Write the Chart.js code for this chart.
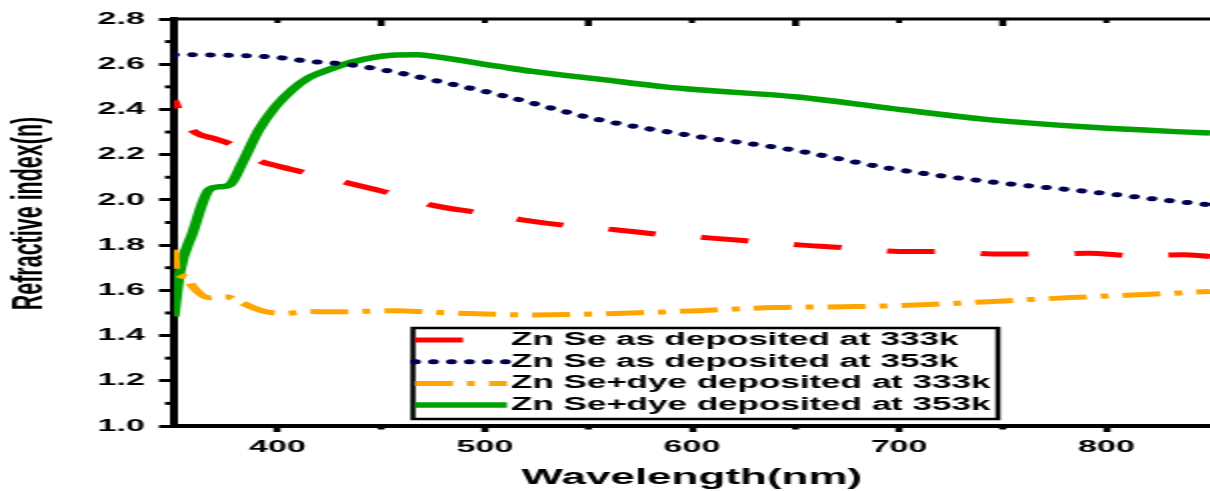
<!DOCTYPE html>
<html lang="en">
<head>
<meta charset="UTF-8" />
<title>Refractive index vs wavelength</title>
<style>
    html, body { margin: 0; padding: 0; background: #fff; overflow: hidden; }
    /* the original figure is stretched sideways, so draw at half width and stretch */
    #wrap { width: 605px; height: 491px; transform: scaleX(2); transform-origin: 0 0; }
</style>
</head>
<body>
<div id="wrap"><canvas id="nChart" width="605" height="491"></canvas></div>

<script src="https://cdn.jsdelivr.net/npm/chart.js"></script>
<script>
    // values: wavelength (nm) and refractive index n
    const as333X = [350, 352, 356, 360, 370, 378, 392, 400, 414, 425, 434, 454, 474, 497, 518, 541, 563, 586, 608, 632, 653, 677, 700, 724, 745, 769, 791, 815, 837, 850];
    const as333Y = [2.44, 2.40, 2.34, 2.30, 2.27, 2.244, 2.17, 2.15, 2.119, 2.095, 2.075, 2.03, 1.978, 1.943, 1.912, 1.885, 1.868, 1.846, 1.832, 1.815, 1.80, 1.787, 1.772, 1.772, 1.761, 1.761, 1.764, 1.753, 1.757, 1.75];

    const as353X = [350, 375, 400, 415, 433, 459, 475, 507, 555, 603, 648, 695, 743, 791, 830, 850];
    const as353Y = [2.642, 2.64, 2.63, 2.613, 2.60, 2.561, 2.53, 2.465, 2.355, 2.28, 2.222, 2.14, 2.081, 2.037, 1.997, 1.978];

    const dye333X = [350, 351, 356, 359, 367, 375, 383, 394, 404, 415, 426, 459, 468, 497, 523, 571, 603, 640, 679, 711, 743, 783, 815, 850];
    const dye333Y = [1.78, 1.677, 1.66, 1.617, 1.567, 1.572, 1.543, 1.506, 1.499, 1.506, 1.505, 1.51, 1.506, 1.496, 1.491, 1.50, 1.51, 1.524, 1.528, 1.536, 1.55, 1.568, 1.58, 1.595];

    const dye353X = [350, 352.7, 359, 367, 372, 377, 383, 391, 399, 407, 415, 420, 436, 455, 467, 475, 507, 523, 555, 587, 603, 651, 695, 743, 791, 831, 850];
    const dye353Y = [1.484, 1.677, 1.854, 2.045, 2.058, 2.067, 2.164, 2.31, 2.413, 2.487, 2.54, 2.56, 2.61, 2.64, 2.642, 2.635, 2.59, 2.568, 2.534, 2.50, 2.487, 2.455, 2.406, 2.355, 2.322, 2.303, 2.296];

    const seriesNames = [
        "Zn Se as deposited at 333k",
        "Zn Se as deposited at 353k",
        "Zn Se+dye deposited at 333k",
        "Zn Se+dye deposited at 353k",
    ];

    const xTicks = [400, 500, 600, 700, 800];
    const yTicks = [1.0, 1.2, 1.4, 1.6, 1.8, 2.0, 2.2, 2.4, 2.6, 2.8];

    function points(xs, ys) {
        return xs.map((x, i) => ({ x: x, y: ys[i] }));
    }

    function seg(ctx, x1, y1, x2, y2) {
        ctx.beginPath();
        ctx.moveTo(x1, y1);
        ctx.lineTo(x2, y2);
        ctx.stroke();
    }

    // minor ticks and the top frame line with its inward ticks
    const frameTicks = {
        id: "frameTicks",
        afterDraw(chart) {
            const { ctx, chartArea: a, scales } = chart;
            const x = scales.x, y = scales.y;
            ctx.save();
            ctx.strokeStyle = "#000";
            ctx.lineWidth = 3;
            for (let i = 0; i < yTicks.length - 1; i++) {
                const py = y.getPixelForValue((yTicks[i] + yTicks[i + 1]) / 2);
                seg(ctx, a.left - 4.5, py, a.left, py);
            }
            ctx.lineWidth = 3.5;
            for (let i = 0; i < xTicks.length - 1; i++) {
                const px = x.getPixelForValue((xTicks[i] + xTicks[i + 1]) / 2);
                seg(ctx, px, a.bottom, px, a.bottom + 3.5);
                seg(ctx, px, a.top, px, a.top + 7);
            }
            ctx.lineWidth = 3;
            xTicks.forEach((v) => {
                const px = x.getPixelForValue(v);
                seg(ctx, px, a.top, px, a.top + 4);
            });
            seg(ctx, a.left, a.top, a.right, a.top);
            ctx.restore();
        },
    };

    // boxed legend inside the plot
    const legendBox = {
        id: "legendBox",
        afterDatasetsDraw(chart, args, o) {
            const ctx = chart.ctx;
            ctx.save();
            ctx.fillStyle = "#fff";
            ctx.fillRect(o.left, o.top, o.width, o.height);
            ctx.lineWidth = 2.5;
            ctx.strokeStyle = "#000";
            ctx.strokeRect(o.left, o.top, o.width, o.height);
            chart.data.datasets.forEach((ds, i) => {
                const ly = o.top + o.firstRow + i * o.rowGap;
                ctx.setLineDash(ds.borderDash || []);
                ctx.lineCap = ds.borderCapStyle || "butt";
                ctx.lineWidth = ds.borderWidth;
                ctx.strokeStyle = ds.borderColor;
                seg(ctx, o.left + 1, ly, o.left + 1 + o.sample, ly);
                ctx.setLineDash([]);
                ctx.fillStyle = "#000";
                ctx.font = "bold 17.5px 'Liberation Sans', Arial, sans-serif";
                ctx.textBaseline = "middle";
                ctx.fillText(ds.label, o.left + o.textX, ly);
            });
            ctx.restore();
        },
    };

    Chart.defaults.font.family = "'Liberation Sans', Arial, sans-serif";
    Chart.defaults.color = "#000";

    const ctx = document.getElementById("nChart").getContext("2d");
    const nChart = new Chart(ctx, {
        type: "line",
        data: {
            datasets: [
                {
                    label: seriesNames[0],
                    data: points(as333X, as333Y),
                    borderColor: "#ff0000",
                    borderWidth: 5,
                    borderDash: [24, 23],
                    borderDashOffset: 16,
                },
                {
                    label: seriesNames[1],
                    data: points(as353X, as353Y),
                    borderColor: "#000050",
                    borderWidth: 5,
                    borderDash: [0.5, 8.5],
                    borderCapStyle: "round",
                },
                {
                    label: seriesNames[2],
                    data: points(dye333X, dye333Y),
                    borderColor: "#ffa500",
                    borderWidth: 5,
                    borderDash: [19, 7, 4, 7],
                },
                {
                    label: seriesNames[3],
                    data: points(dye353X, dye353Y),
                    borderColor: "#00a000",
                    borderWidth: 5.5,
                },
            ],
        },
        options: {
            responsive: false,
            animation: false,
            devicePixelRatio: 1,
            cubicInterpolationMode: "monotone",
            pointRadius: 0,
            layout: { padding: { top: 19, right: 0, bottom: 0, left: 0 } },
            plugins: {
                legend: { display: false },
                tooltip: { enabled: false },
                legendBox: {
                    left: 206.5, top: 328, width: 292.5, height: 91,
                    firstRow: 12, rowGap: 21.7, sample: 46, textX: 49,
                },
            },
            scales: {
                x: {
                    type: "linear",
                    min: 350,
                    max: 850,
                    afterBuildTicks: (s) => { s.ticks = xTicks.map((v) => ({ value: v })); },
                    afterFit: (s) => { s.height = 65; },
                    ticks: {
                        font: { size: 17, weight: "bold" },
                        padding: 5,
                        callback: (v) => v,
                    },
                    grid: { drawOnChartArea: false, tickLength: 6, tickWidth: 3.5, tickColor: "#000" },
                    border: { color: "#000", width: 4 },
                    title: {
                        display: true,
                        text: "Wavelength(nm)",
                        font: { size: 22, weight: "bold" },
                        padding: { top: 0, bottom: 0 },
                    },
                },
                y: {
                    min: 1.0,
                    max: 2.8,
                    afterBuildTicks: (s) => { s.ticks = yTicks.map((v) => ({ value: v })); },
                    afterFit: (s) => { s.width = 87; },
                    ticks: {
                        font: { size: 17, weight: "bold" },
                        padding: 7,
                        callback: (v) => v.toFixed(1),
                    },
                    grid: { drawOnChartArea: false, tickLength: 7.5, tickWidth: 3, tickColor: "#000" },
                    border: { color: "#000", width: 4 },
                    title: {
                        display: true,
                        text: "   Refractive index(n)",
                        font: { size: 21.5, weight: "bold" },
                        padding: { top: 2, bottom: 0 },
                    },
                },
            },
        },
        plugins: [legendBox, frameTicks],
    });
</script>
</body>
</html>
